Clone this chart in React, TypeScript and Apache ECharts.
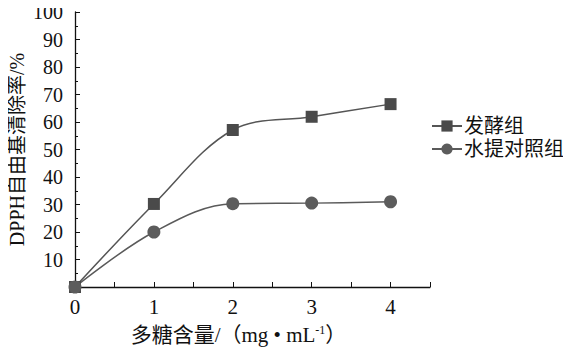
import React, { useEffect, useRef } from "react";
import * as echarts from "echarts";

const xValues = [0, 1, 2, 3, 4];
const fermentGroup = [0, 30.2, 57.1, 61.9, 66.5];
const waterControl = [0, 20.0, 30.3, 30.5, 31.0];
const seriesNames = ["发酵组", "水提对照组"];
const yAxisName = "DPPH自由基清除率/%";

const serif = "'Liberation Serif', 'Times New Roman', 'Noto Sans CJK SC', serif";

export default function App() {
  const ref = useRef<HTMLDivElement>(null);
  useEffect(() => {
    if (!ref.current) return;
    const chart = echarts.init(ref.current, null, { renderer: "svg" });
    const toPairs = (arr: number[]) => arr.map((v, i) => [xValues[i], v]);
    chart.setOption({
      animation: false,
      backgroundColor: "#ffffff",
      grid: { left: 75, right: 141, top: 12, bottom: 68, containLabel: false, outerBoundsMode: "none" },
      legend: {
        orient: "vertical",
        left: 426,
        top: 111,
        itemWidth: 30,
        itemHeight: 14,
        itemGap: 3,
        textStyle: { fontFamily: serif, fontSize: 20, color: "#111", padding: [0, 0, 0, -3] },
        data: seriesNames,
      },
      xAxis: {
        type: "value",
        min: 0,
        max: 4.5,
        interval: 0.5,
        name: "{a|多糖含量/（mg • mL}{sup|-1}{a|）}",
        nameLocation: "middle",
        nameGap: 37,
        nameMoveOverlap: false,
        nameTextStyle: {
          padding: [0, 28, 0, 0],
          rich: {
            a: { fontFamily: serif, fontSize: 21, color: "#111" },
            sup: { fontFamily: serif, fontSize: 12, color: "#111", verticalAlign: "top", padding: [0, 0, 10, 0] },
          },
        },
        axisLine: { lineStyle: { color: "#111", width: 1.3 } },
        axisTick: { inside: true, length: 5, lineStyle: { color: "#111" } },
        axisLabel: {
          fontFamily: serif,
          fontSize: 21,
          color: "#111",
          margin: 9,
          formatter: (v: number) => (Number.isInteger(v) && v <= 4 ? String(v) : ""),
        },
        splitLine: { show: false },
      },
      yAxis: {
        type: "value",
        min: 0,
        max: 100,
        interval: 10,
        name: yAxisName,
        nameLocation: "middle",
        nameGap: 48,
        nameMoveOverlap: false,
        nameTextStyle: { fontFamily: serif, fontSize: 20, color: "#111" },
        axisLine: { show: true, lineStyle: { color: "#111", width: 1.3 } },
        axisTick: { show: true, inside: true, length: 5, lineStyle: { color: "#111" } },
        minorTick: { show: true, splitNumber: 2, length: 3, lineStyle: { color: "#111" } },
        axisLabel: {
          fontFamily: serif,
          fontSize: 20,
          color: "#111",
          margin: 12,
          formatter: (v: number) => (v === 0 ? "" : String(v)),
        },
        splitLine: { show: false },
      },
      series: [
        {
          name: seriesNames[0],
          type: "line",
          data: toPairs(fermentGroup),
          smooth: 0.35,
          symbol: "rect",
          symbolSize: 12,
          lineStyle: { color: "#555", width: 1.5 },
          itemStyle: { color: "#4a4a4a" },
        },
        {
          name: seriesNames[1],
          type: "line",
          data: toPairs(waterControl),
          smooth: 0.35,
          symbol: "circle",
          symbolSize: 13,
          lineStyle: { color: "#5a5a5a", width: 1.5 },
          itemStyle: { color: "#5c5c5c" },
        },
      ],
    });
    return () => chart.dispose();
  }, []);
  return <div ref={ref} style={{ width: 571, height: 355, margin: -8 }} />;
}
